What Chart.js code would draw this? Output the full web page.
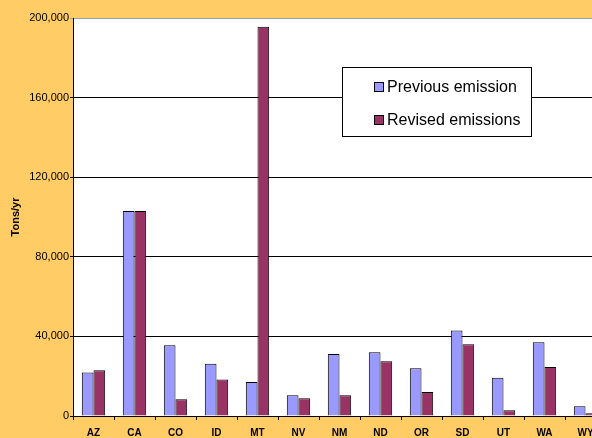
<!DOCTYPE html>
<html>
<head>
<meta charset="utf-8">
<script src="https://cdn.jsdelivr.net/npm/chart.js@4"></script>
<style>
    html, body { margin: 0; padding: 0; background: #FFCC66; overflow: hidden; }
    #wrap { position: absolute; left: 0; top: 0; width: 620px; height: 438px; }
</style>
</head>
<body>
<div id="wrap"><canvas id="emissionChart" width="620" height="438"></canvas></div>
<script>
// Chart data
const states = ['AZ', 'CA', 'CO', 'ID', 'MT', 'NV', 'NM', 'ND', 'OR', 'SD', 'UT', 'WA', 'WY'];
const previousEmission = [21800, 103000, 35500, 26300, 17100, 10400, 31200, 32000, 24000, 43000, 19200, 37000, 4900];
const revisedEmissions = [23000, 103000, 8400, 18400, 195600, 8900, 10400, 27500, 12000, 36000, 2900, 24600, 1400];
const yTicks = [0, 40000, 80000, 120000, 160000, 200000];

// White plot area on the orange page
const plotBackground = {
    id: 'plotBackground',
    beforeDraw(chart) {
        const { ctx, chartArea: a } = chart;
        ctx.save();
        ctx.fillStyle = '#ffffff';
        ctx.fillRect(a.left, a.top, a.right - a.left, a.bottom - a.top);
        ctx.restore();
    }
};

// Legend box drawn inside the plot, like the original
const boxLegend = {
    id: 'boxLegend',
    afterDraw(chart) {
        const ctx = chart.ctx;
        ctx.save();
        ctx.fillStyle = '#ffffff';
        ctx.fillRect(342, 67, 189, 69);
        ctx.strokeStyle = '#000000';
        ctx.lineWidth = 1;
        ctx.strokeRect(342.5, 67.5, 189, 69);
        ctx.font = '16px "Liberation Sans", Arial, sans-serif';
        ctx.textBaseline = 'middle';
        const rows = [87, 120];
        chart.data.datasets.forEach((ds, i) => {
            const y = rows[i];
            ctx.fillStyle = ds.backgroundColor;
            ctx.fillRect(374, y - 5, 9, 9);
            ctx.strokeRect(374.5, y - 4.5, 9, 9);
            ctx.fillStyle = '#000000';
            ctx.fillText(ds.label, 387, y + 1);
        });
        ctx.restore();
    }
};

const initializeChart = () => {
    const ctx = document.getElementById('emissionChart');
    return new Chart(ctx.getContext('2d'), {
        type: 'bar',
        data: {
            labels: states,
            datasets: [{
                label: 'Previous emission',
                data: previousEmission,
                backgroundColor: '#9999FF',
                borderColor: '#000000',
                borderWidth: 1,
                borderSkipped: 'bottom'
            }, {
                label: 'Revised emissions',
                data: revisedEmissions,
                backgroundColor: '#993366',
                borderColor: '#000000',
                borderWidth: 1,
                borderSkipped: 'bottom'
            }]
        },
        options: {
            responsive: false,
            animation: false,
            layout: {
                padding: { top: 18, right: 14, left: 0, bottom: 0 }
            },
            datasets: {
                bar: { categoryPercentage: 0.57, barPercentage: 1 }
            },
            scales: {
                x: {
                    afterFit: s => { s.height = 22; },
                    grid: {
                        offset: true,
                        drawOnChartArea: false,
                        color: '#000000',
                        tickLength: 4
                    },
                    border: { color: '#000000', width: 1 },
                    ticks: {
                        color: '#000000',
                        padding: 7,
                        maxRotation: 0,
                        font: { family: '"Liberation Sans", Arial, sans-serif', size: 10, weight: 'bold' }
                    }
                },
                y: {
                    min: 0,
                    max: 200000,
                    afterFit: s => { s.width = 73; },
                    afterBuildTicks: s => { s.ticks = yTicks.map(v => ({ value: v })); },
                    grid: {
                        color: c => (c.tick && c.tick.value === 200000 ? '#a0a0a0' : '#000000'),
                        tickLength: 3
                    },
                    border: { color: '#000000', width: 1 },
                    ticks: {
                        color: '#000000',
                        padding: 1,
                        font: { family: '"Liberation Sans", Arial, sans-serif', size: 11 },
                        callback: v => v.toLocaleString('en-US')
                    },
                    title: {
                        display: true,
                        text: 'Tons/yr',
                        color: '#000000',
                        padding: { top: 9, bottom: 0 },
                        font: { family: '"Liberation Sans", Arial, sans-serif', size: 11, weight: 'bold' }
                    }
                }
            },
            plugins: {
                legend: { display: false },
                tooltip: { enabled: false }
            }
        },
        plugins: [plotBackground, boxLegend]
    });
};

document.addEventListener('DOMContentLoaded', () => {
    initializeChart();
});
</script>
</body>
</html>
